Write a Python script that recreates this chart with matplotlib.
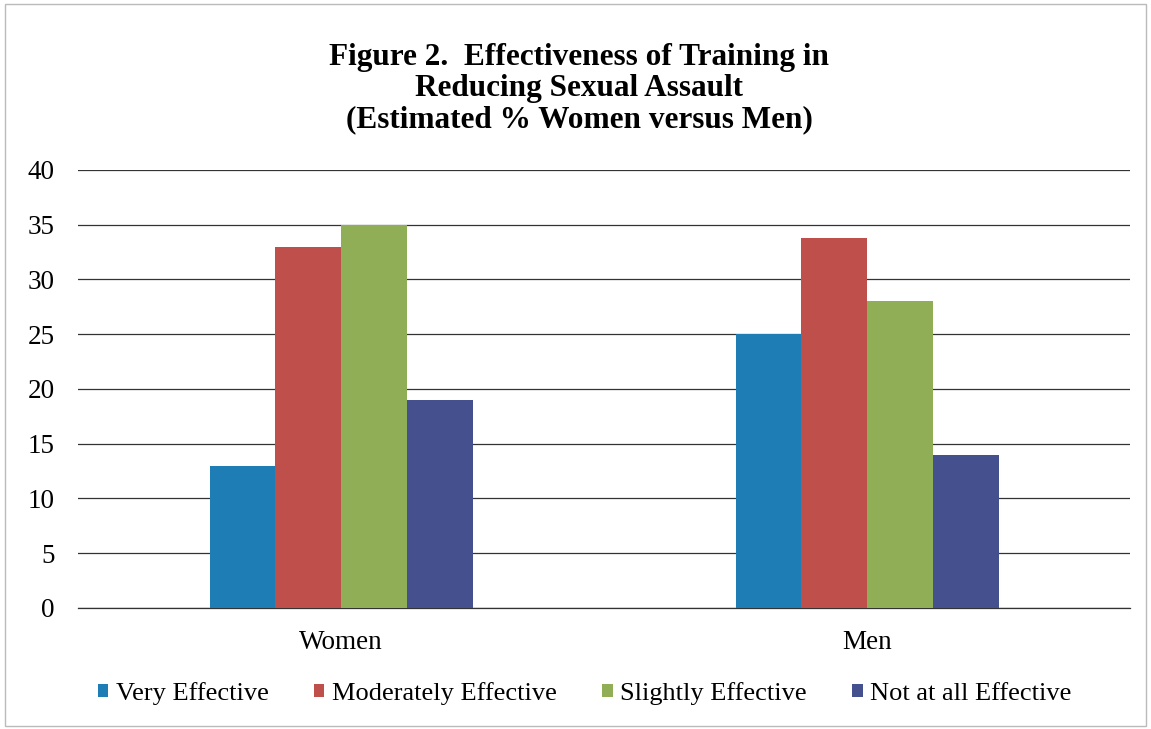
import matplotlib.pyplot as plt
import numpy as np
from matplotlib.patches import Rectangle

plt.rcParams['font.family'] = ['Liberation Serif', 'DejaVu Serif']

groups = ["Women", "Men"]
series = ["Very Effective", "Moderately Effective", "Slightly Effective", "Not at all Effective"]
values = {
    "Very Effective": [13, 25],
    "Moderately Effective": [33, 33.8],
    "Slightly Effective": [35, 28],
    "Not at all Effective": [19, 14],
}
colors = ["#1f7db5", "#be4f4a", "#8fae55", "#45508f"]
yticks = [0, 5, 10, 15, 20, 25, 30, 35, 40]

fig = plt.figure(figsize=(11.51, 7.29), dpi=100)
ax = fig.add_axes([0.0678, 0.166, 0.914, 0.601])

# frame around the whole chart
fig.patches.append(Rectangle((0.004, 0.004), 0.992, 0.99, transform=fig.transFigure,
                             fill=False, edgecolor="#bbbbbb", linewidth=1))

x = np.arange(len(groups))
w = 0.125
for i, s in enumerate(series):
    ax.bar(x + (i - 1.5) * w, values[s], width=w, color=colors[i], label=s, zorder=3)

ax.set_xlim(-0.5, 1.5)
ax.set_ylim(0, 40)
ax.set_yticks(yticks)
ax.set_xticks(x)
ax.set_xticklabels(groups, fontsize=19.5)
ax.tick_params(axis='y', labelsize=19.5, length=0, pad=17)
ax.tick_params(axis='x', length=0, pad=16)
ax.yaxis.grid(True, color="#333333", linewidth=0.9, zorder=0)
for sp in ax.spines.values():
    sp.set_visible(False)
ax.spines['bottom'].set_visible(True)
ax.spines['bottom'].set_color("#333333")
ax.spines['bottom'].set_linewidth(0.9)

fig.text(0.503, 0.879, "Figure 2.  Effectiveness of Training in\nReducing Sexual Assault\n(Estimated % Women versus Men)",
         ha="center", va="center", fontsize=22.5, fontweight="bold", linespacing=1.1)

fig.legend(loc="center", bbox_to_anchor=(0.508, 0.049), ncol=4, frameon=False, fontsize=19,
           handlelength=0.4, handleheight=0.4, handletextpad=0.3, columnspacing=1.7)

plt.savefig("out.png", dpi=100)
